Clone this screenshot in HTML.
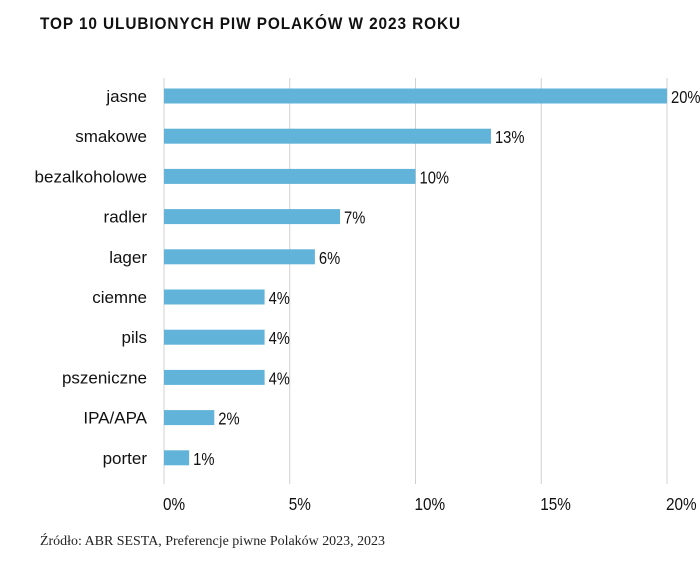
<!DOCTYPE html>
<html><head><meta charset="utf-8"><style>
body{margin:0;background:#fff;width:700px;height:573px;overflow:hidden}
svg text{font-family:"Liberation Sans",sans-serif}
</style></head><body>
<svg width="700" height="573">
<text x="40" y="29" font-size="17" font-weight="bold" fill="#111" letter-spacing="1" textLength="421" lengthAdjust="spacingAndGlyphs">TOP 10 ULUBIONYCH PIW POLAKÓW W 2023 ROKU</text>
<g id="grid"></g><g id="bars"></g>
<text x="40" y="545" font-size="13.5" fill="#222" textLength="345" lengthAdjust="spacingAndGlyphs" style="font-family:'Liberation Serif',serif">Źródło: ABR SESTA, Preferencje piwne Polaków 2023, 2023</text>
</svg>
<script>
const categories=["jasne","smakowe","bezalkoholowe","radler","lager","ciemne","pils","pszeniczne","IPA/APA","porter"];
const values=[20,13,10,7,6,4,4,4,2,1];
const ticks=[0,5,10,15,20];
const NS="http://www.w3.org/2000/svg";
const x=v=>164+v*(667-164)/20;
const y=i=>96+i*40.2;
function mk(t,a,p){const e=document.createElementNS(NS,t);for(const k in a)e.setAttribute(k,a[k]);p.appendChild(e);return e;}
const g=document.getElementById('grid'),b=document.getElementById('bars');
ticks.forEach(t=>{
 const l=mk('line',{x1:x(t),x2:x(t),y1:78,y2:484,stroke:'#d0d0d0','stroke-width':1},g);
 
 
 const tx=mk('text',{transform:'translate('+(x(t)-1)+',510) scale(0.85,1)','font-size':18,fill:'#111'},g);
 tx.textContent=t+'%';
 
 
});
categories.forEach((c,i)=>{
 const r=mk('rect',{x:x(0),y:y(i)-7.5,width:x(values[i])-x(0),height:15,fill:'#62b3d9'},b);
 
 
 const cl=mk('text',{x:147,y:y(i)+6,'font-size':17,fill:'#111','text-anchor':'end'},b);
 cl.textContent=c;
 
 
 const vl=mk('text',{transform:'translate('+(x(values[i])+4)+','+(y(i)+7)+') scale(0.82,1)','font-size':18,fill:'#111'},b);
 vl.textContent=values[i]+'%';
 
 
});
</script>
</body></html>
